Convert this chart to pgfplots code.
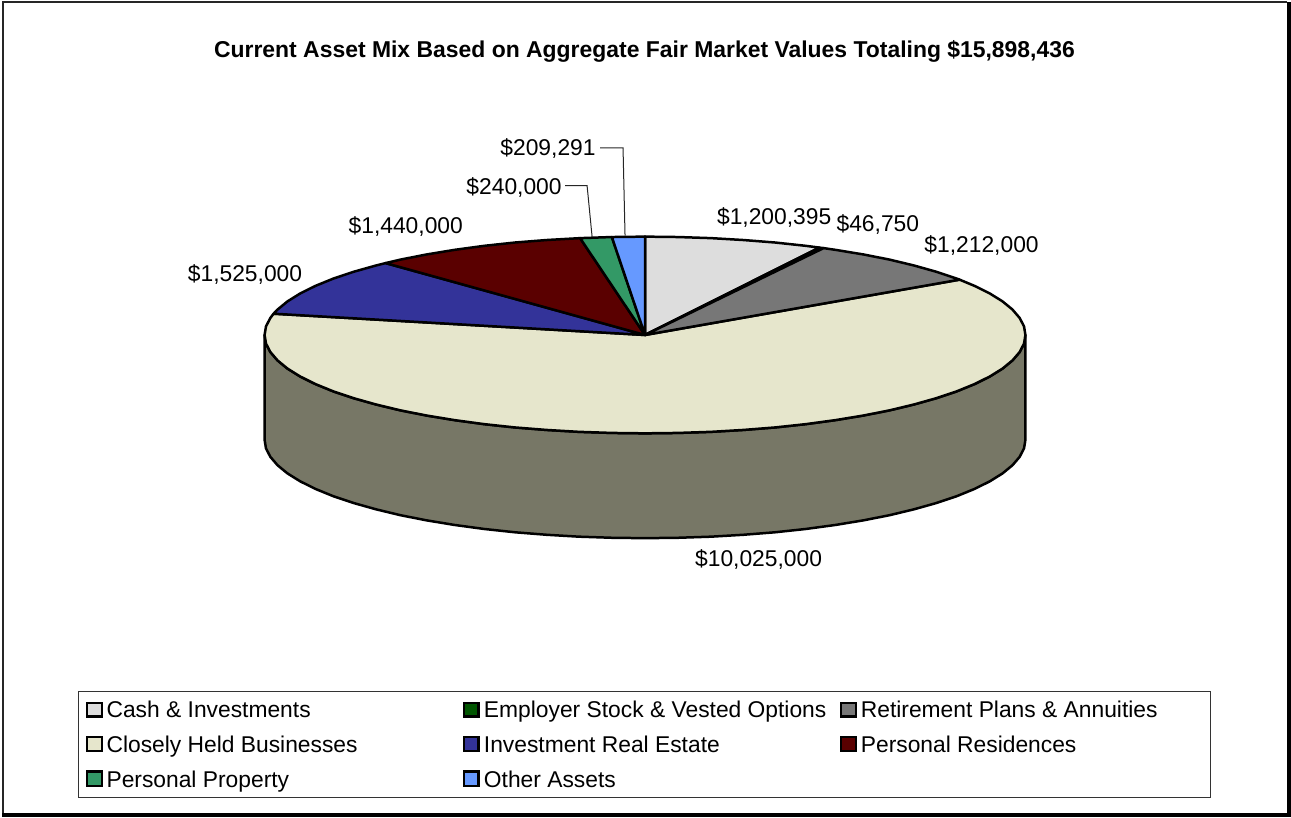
\documentclass[border=0pt]{standalone}
\usepackage{pgfplots}
\pgfplotsset{compat=1.18}
\usepackage{fontspec}
\setmainfont{Liberation Sans}
\definecolor{cCash}{HTML}{DDDDDD}
\definecolor{cEmp}{HTML}{005500}
\definecolor{cRet}{HTML}{777777}
\definecolor{cClose}{HTML}{E6E6CC}
\definecolor{cSide}{HTML}{777766}
\definecolor{cInv}{HTML}{333399}
\definecolor{cRes}{HTML}{5A0000}
\definecolor{cProp}{HTML}{339966}
\definecolor{cOther}{HTML}{6699FF}
\pgfplotsset{
  slice/.style={draw=black,line width=2.5pt,line join=round,fill=#1,mark=none},
  swatch/.style={draw=black,line width=2.2pt,line join=miter,fill=#1,mark=none},
  lead/.style={draw=black!85,line width=1pt,mark=none}
}
\newcommand{\lab}[3]{\node[anchor=base west,inner sep=0pt,text=black,font=\fontsize{22.85pt}{24pt}\selectfont] at (axis cs:#1,#2) {#3};}
\begin{document}
\begin{tikzpicture}
\begin{axis}[
  scale only axis,width=1291pt,height=817pt,
  xmin=1,xmax=1292,ymin=0.5,ymax=817.5,y dir=reverse,
  axis lines=none,clip=false,enlargelimits=false
]
% frame
\addplot[draw=black!85,line width=2pt,mark=none] coordinates {(1.8,816) (1.8,1.5) (1288,1.5)};
\addplot[draw=black,line width=4pt,mark=none] coordinates {(1290,1) (1290,815.5) (1,815.5)};
% side wall
\addplot[slice=cSide] coordinates {
(1026,334.5)(1024.6,343.1)(1020.2,351.6)(1013,360)(1003,368.2)(990.3,376.1)(975,383.7)(957.1,391)(936.8,397.8)(914.4,404.1)(889.9,410)(863.5,415.2)(835.5,419.8)(806,423.8)(775.3,427.1)(743.6,429.6)(711.2,431.5)(678.2,432.6)(645,433)(611.8,432.6)(578.8,431.5)(546.4,429.6)(514.7,427.1)(484,423.8)(454.5,419.8)(426.5,415.2)(400.1,410)(375.6,404.1)(353.2,397.8)(332.9,391)(315,383.7)(299.7,376.1)(287,368.2)(277,360)(269.8,351.6)(265.4,343.1)(264,334.5)
(264,439.5)(265.4,448.1)(269.8,456.6)(277,465)(287,473.2)(299.7,481.1)(315,488.7)(332.9,496)(353.2,502.8)(375.6,509.1)(400.1,515)(426.5,520.2)(454.5,524.8)(484,528.8)(514.7,532.1)(546.4,534.6)(578.8,536.5)(611.8,537.6)(645,538)(678.2,537.6)(711.2,536.5)(743.6,534.6)(775.3,532.1)(806,528.8)(835.5,524.8)(863.5,520.2)(889.9,515)(914.4,509.1)(936.8,502.8)(957.1,496)(975,488.7)(990.3,481.1)(1003,473.2)(1013,465)(1020.2,456.6)(1024.6,448.1)(1026,439.5)
} -- cycle;
% closely held
\addplot[slice=cClose] coordinates {
(645,334.5)(960.1,279.1)(975,285.3)(990.3,292.9)(1003,300.8)(1013,309)(1020.2,317.4)(1024.6,325.9)(1026,334.5)(1024.6,343.1)(1020.2,351.6)(1013,360)(1003,368.2)(990.3,376.1)(975,383.7)(957.1,391)(936.8,397.8)(914.4,404.1)(889.9,410)(863.5,415.2)(835.5,419.8)(806,423.8)(775.3,427.1)(743.6,429.6)(711.2,431.5)(678.2,432.6)(645,433)(611.8,432.6)(578.8,431.5)(546.4,429.6)(514.7,427.1)(484,423.8)(454.5,419.8)(426.5,415.2)(400.1,410)(375.6,404.1)(353.2,397.8)(332.9,391)(315,383.7)(299.7,376.1)(287,368.2)(277,360)(269.8,351.6)(265.4,343.1)(264,334.5)(265.4,325.9)(269.8,317.4)(273,313.2)
} -- cycle;
% cash
\addplot[slice=cCash] coordinates {
(645,334.5)(645,236)(678.2,236.4)(711.2,237.5)(743.6,239.4)(775.3,241.9)(806,245.2)(819.7,247)
} -- cycle;
% employer
\addplot[slice=cEmp] coordinates {(645,334.5)(819.7,247)(823.9,247.5)} -- cycle;
% retirement
\addplot[slice=cRet] coordinates {
(645,334.5)(823.9,247.5)(835.5,249.2)(863.5,253.8)(889.9,259)(914.4,264.9)(936.8,271.2)(957.1,278)(960.1,279.1)
} -- cycle;
% investment real estate
\addplot[slice=cInv] coordinates {
(645,334.5)(273,313.2)(277,309)(287,300.8)(299.7,292.9)(315,285.3)(332.9,278)(353.2,271.2)(375.6,264.9)(385.2,262.5)
} -- cycle;
% personal residences
\addplot[slice=cRes] coordinates {
(645,334.5)(385.2,262.5)(400.1,259)(426.5,253.8)(454.5,249.2)(484,245.2)(514.7,241.9)(546.4,239.4)(580,237.5)
} -- cycle;
% personal property
\addplot[slice=cProp] coordinates {(645,334.5)(580,237.5)(611.8,236.4)} -- cycle;
% other
\addplot[slice=cOther] coordinates {(645,334.5)(611.8,236.4)(645,236)} -- cycle;
% leaders
\addplot[lead] coordinates {(600,147)(623,147)(625,235)};
\addplot[lead] coordinates {(565,185)(587,185)(592,236)};
% texts
\node[anchor=base,inner sep=0pt,text=black,font=\bfseries\fontsize{22.96pt}{24pt}\selectfont] at (axis cs:644.5,56.5) {Current Asset Mix Based on Aggregate Fair Market Values Totaling \$15,898,436};
\lab{717}{224.3}{\$1,200,395}
\lab{836.7}{230.7}{\$46,750}
\lab{924.7}{251.5}{\$1,212,000}
\lab{695}{566}{\$10,025,000}
\lab{187}{280.5}{\$1,525,000}
\lab{348}{233}{\$1,440,000}
\lab{466}{193.5}{\$240,000}
\lab{500}{154.3}{\$209,291}
% legend
\addplot[draw=black!80,line width=1pt,fill=white,mark=none] coordinates {(78,691.5)(1211,691.5)(1211,797.5)(78,797.5)} -- cycle;
\addplot[swatch=cCash] coordinates {(86.3,702.7)(101.3,702.7)(101.3,716.7)(86.3,716.7)} -- cycle;
\addplot[swatch=cEmp] coordinates {(463.7,702.7)(478.3,702.7)(478.3,716.7)(463.7,716.7)} -- cycle;
\addplot[swatch=cRet] coordinates {(841,702.7)(856,702.7)(856,716.7)(841,716.7)} -- cycle;
\addplot[swatch=cClose] coordinates {(86.3,737)(101.3,737)(101.3,751)(86.3,751)} -- cycle;
\addplot[swatch=cInv] coordinates {(463.7,737)(478.3,737)(478.3,751)(463.7,751)} -- cycle;
\addplot[swatch=cRes] coordinates {(841,737)(856,737)(856,751)(841,751)} -- cycle;
\addplot[swatch=cProp] coordinates {(86.3,771.7)(101.3,771.7)(101.3,786.3)(86.3,786.3)} -- cycle;
\addplot[swatch=cOther] coordinates {(463.7,771.7)(478.3,771.7)(478.3,786.3)(463.7,786.3)} -- cycle;
\lab{105.5}{717.3}{Cash \& Investments}
\lab{483.5}{717.3}{Employer Stock \& Vested Options}
\lab{861}{717.3}{Retirement Plans \& Annuities}
\lab{105.5}{752.3}{Closely Held Businesses}
\lab{483.5}{752.3}{Investment Real Estate}
\lab{861}{752.3}{Personal Residences}
\lab{105.5}{787.3}{Personal Property}
\lab{483.5}{787.3}{Other Assets}
\end{axis}
\end{tikzpicture}
\end{document}
